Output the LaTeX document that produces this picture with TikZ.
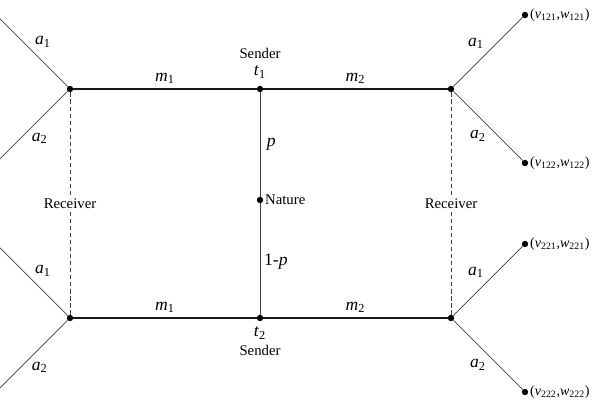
\documentclass[tikz,border=0pt]{standalone}
\usepackage{fontspec}
\setmainfont{Liberation Serif}
\usetikzlibrary{positioning}
\tikzset{
  gamedot/.style={circle, fill=black, inner sep=0pt, minimum size=0.16cm},
  mainline/.style={line width=0.8pt, draw=black!90},
  branch/.style={line width=0.5pt, draw=black!75},
  infoset/.style={line width=0.4pt, draw=black!75, dash pattern=on 3pt off 2pt},
  movelab/.style={font=\fontsize{12.5}{14}\selectfont, inner sep=1pt},
  rolelab/.style={font=\fontsize{10.5}{12}\selectfont, inner sep=1pt},
  payoff/.style={font=\fontsize{10}{12}\selectfont, inner sep=1pt, anchor=west},
}
\newcommand{\sym}[2]{\textit{#1}\textsubscript{#2}}
\newcommand{\pay}[1]{(\sym{v}{#1},\sym{w}{#1})}

\begin{document}
\begin{tikzpicture}[on grid]
  \clip (0,0) rectangle (15,10);
  % sender types and nature
  \node[gamedot] (t1) at (6.5,7.775) {};
  \node[gamedot, label={[rolelab]right:Nature}] (nat) at (6.5,5) {};
  \node[gamedot] (t2) at (6.5,2.05) {};
  \node[movelab, above=0.43cm of t1] (t1lab) {\sym{t}{1}};
  \node[rolelab, above=0.88cm of t1] (snd1) {Sender};
  \node[movelab, below=0.38cm of t2] (t2lab) {\sym{t}{2}};
  \node[rolelab, below=0.8cm of t2] (snd2) {Sender};
  % receiver nodes
  \node[gamedot, left=4.75cm of t1] (rl1) {};
  \node[gamedot, left=4.75cm of t2] (rl2) {};
  \node[gamedot, right=4.775cm of t1] (rr1) {};
  \node[gamedot, right=4.775cm of t2] (rr2) {};
  % terminal nodes
  \node[gamedot, above right=1.85cm and 1.85cm of rr1] (v121) {};
  \node[gamedot, below right=1.85cm and 1.85cm of rr1] (v122) {};
  \node[gamedot, above right=1.85cm and 1.85cm of rr2] (v221) {};
  \node[gamedot, below right=1.85cm and 1.85cm of rr2] (v222) {};
  \node[payoff] (p121) at (v121.east) {\pay{121}};
  \node[payoff] (p122) at (v122.east) {\pay{122}};
  \node[payoff] (p221) at (v221.east) {\pay{221}};
  \node[payoff] (p222) at (v222.east) {\pay{222}};
  \coordinate[above left=1.85cm and 1.85cm of rl1] (e111);
  \coordinate[below left=1.85cm and 1.85cm of rl1] (e112);
  \coordinate[above left=1.85cm and 1.85cm of rl2] (e211);
  \coordinate[below left=1.85cm and 1.85cm of rl2] (e212);

  \draw[mainline] (rl1) -- node[movelab, midway, yshift=0.27cm] {\sym{m}{1}} (t1);
  \draw[mainline] (t1) -- node[movelab, midway, yshift=0.27cm] {\sym{m}{2}} (rr1);
  \draw[mainline] (rl2) -- node[movelab, midway, yshift=0.27cm] {\sym{m}{1}} (t2);
  \draw[mainline] (t2) -- node[movelab, midway, yshift=0.27cm] {\sym{m}{2}} (rr2);
  \draw[branch] (t1) -- node[movelab, midway, right=0.13cm] {\textit{p}} (nat);
  \draw[branch] (nat) -- node[movelab, midway, right=0.06cm, yshift=-0.07cm] {1-\textit{p}} (t2);

  \draw[infoset] (rl1) -- node[rolelab, midway, fill=white] {Receiver} (rl2);
  \draw[infoset] (rr1) -- node[rolelab, midway, fill=white] {Receiver} (rr2);

  \draw[branch] (rl1) -- node[movelab, midway, xshift=0.28cm, yshift=0.22cm] {\sym{a}{1}} (e111);
  \draw[branch] (rl1) -- node[movelab, midway, xshift=0.2cm, yshift=-0.28cm] {\sym{a}{2}} (e112);
  \draw[branch] (rl2) -- node[movelab, midway, xshift=0.28cm, yshift=0.22cm] {\sym{a}{1}} (e211);
  \draw[branch] (rl2) -- node[movelab, midway, xshift=0.2cm, yshift=-0.28cm] {\sym{a}{2}} (e212);
  \draw[branch] (rr1) -- node[movelab, midway, xshift=-0.3cm, yshift=0.22cm] {\sym{a}{1}} (v121);
  \draw[branch] (rr1) -- node[movelab, midway, xshift=-0.25cm, yshift=-0.25cm] {\sym{a}{2}} (v122);
  \draw[branch] (rr2) -- node[movelab, midway, xshift=-0.3cm, yshift=0.22cm] {\sym{a}{1}} (v221);
  \draw[branch] (rr2) -- node[movelab, midway, xshift=-0.25cm, yshift=-0.25cm] {\sym{a}{2}} (v222);
\end{tikzpicture}
\end{document}
